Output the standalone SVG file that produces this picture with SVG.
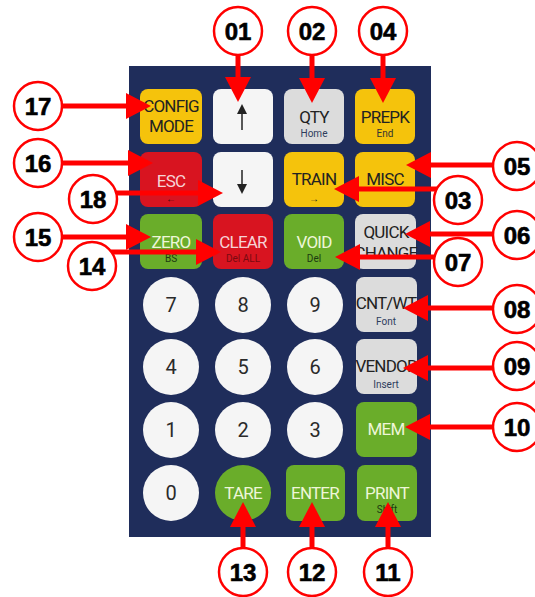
<svg xmlns="http://www.w3.org/2000/svg" width="535" height="597" viewBox="0 0 535 597">
<style>
.panel{fill:#1f2d5b}
.y{fill:#f5c30c}
.r{fill:#d81420}
.g{fill:#6aad2a}
.l{fill:#dcdcdc}
.w{fill:#f5f5f5}
.kt{font-family:Roboto,"Liberation Sans",sans-serif;font-size:17px;text-anchor:middle;letter-spacing:-0.8px}
.dk{fill:#222}
.lt{fill:#eef6d8}
.pk{fill:#f6d3d6}
.sub{font-family:Roboto,"Liberation Sans",sans-serif;font-size:10px;text-anchor:middle}
.num{font-family:Roboto,"Liberation Sans",sans-serif;font-size:20px;text-anchor:middle;fill:#2a2a2a}
.co{fill:#fff;stroke:#f00;stroke-width:2.5}
.ct{font-family:"Liberation Sans",Arial,sans-serif;font-weight:bold;font-size:24px;text-anchor:middle;fill:#000;stroke:#000;stroke-width:0.6}
.ar{stroke:#f00;stroke-width:5;fill:none;marker-end:url(#ah)}
</style>
<defs>
<marker id="ah" markerUnits="userSpaceOnUse" markerWidth="26" markerHeight="26" refX="0" refY="13" orient="auto">
<path d="M0,0 L25,13 L0,26 z" fill="#f00"/>
</marker>
</defs>
<rect class="panel" x="129" y="66" width="302" height="471"/>
<g id="keys">
<g id="k-config"><rect class="y" x="140" y="89" width="62" height="55" rx="8"/><text class="kt dk" x="171" y="112" font-size="15">CONFIG</text><text class="kt dk" x="171" y="132" font-size="15">MODE</text></g>
<g id="k-up"><rect class="w" x="213" y="89" width="60" height="55" rx="8"/><line x1="242" y1="110" x2="242" y2="130" stroke="#222" stroke-width="1.5"/><path d="M237,114 L242,104 L247,114 z" fill="#222"/></g>
<g id="k-qty"><rect class="l" x="284" y="89" width="60" height="55" rx="8"/><text class="kt dk" x="314" y="123">QTY</text><text class="sub" x="314" y="137" fill="#2e3c5c">Home</text></g>
<g id="k-prepk"><rect class="y" x="355" y="89" width="60" height="55" rx="8"/><text class="kt dk" x="385" y="123">PREPK</text><text class="sub" x="385" y="137" fill="#333">End</text></g>
<g id="k-esc"><rect class="r" x="140" y="152" width="62" height="55" rx="8"/><text class="kt pk" x="171" y="187">ESC</text><text class="sub" x="171" y="202" fill="#3a0a0a" font-size="13">←</text></g>
<g id="k-down"><rect class="w" x="213" y="152" width="60" height="55" rx="8"/><line x1="242" y1="170" x2="242" y2="188" stroke="#222" stroke-width="1.5"/><path d="M237,184 L242,194 L247,184 z" fill="#222"/></g>
<g id="k-train"><rect class="y" x="284" y="152" width="60" height="55" rx="8"/><text class="kt dk" x="314" y="185">TRAIN</text><text class="sub" x="314" y="202" fill="#222" font-size="14">→</text></g>
<g id="k-misc"><rect class="y" x="355" y="152" width="60" height="55" rx="8"/><text class="kt dk" x="385" y="185">MISC</text></g>
<g id="k-zero"><rect class="g" x="140" y="214" width="62" height="55" rx="8"/><text class="kt lt" x="171" y="248">ZERO</text><text class="sub" x="171" y="262" fill="#1c3a10">BS</text></g>
<g id="k-clear"><rect class="r" x="213" y="214" width="60" height="55" rx="8"/><text class="kt pk" x="243" y="248">CLEAR</text><text class="sub" x="243" y="262" fill="#7a0a10" font-size="8">Del ALL</text></g>
<g id="k-void"><rect class="g" x="284" y="214" width="60" height="55" rx="8"/><text class="kt lt" x="314" y="248">VOID</text><text class="sub" x="314" y="262" fill="#1c3a10">Del</text></g>
<g id="k-quick"><rect class="l" x="355" y="214" width="61" height="55" rx="8"/><text class="kt dk" x="386" y="238" font-size="15">QUICK</text><text class="kt dk" x="386" y="259" font-size="15">CHANGE</text></g>
<g id="k-7"><circle class="w" cx="171" cy="305" r="28"/><text class="num" x="171" y="312">7</text></g>
<g id="k-8"><circle class="w" cx="243" cy="305" r="28"/><text class="num" x="243" y="312">8</text></g>
<g id="k-9"><circle class="w" cx="315" cy="305" r="28"/><text class="num" x="315" y="312">9</text></g>
<g id="k-cnt"><rect class="l" x="356" y="277" width="61" height="55" rx="8"/><text class="kt dk" x="386" y="309">CNT/WT</text><text class="sub" x="386" y="325" fill="#2e3c5c">Font</text></g>
<g id="k-4"><circle class="w" cx="171" cy="367" r="28"/><text class="num" x="171" y="374">4</text></g>
<g id="k-5"><circle class="w" cx="243" cy="367" r="28"/><text class="num" x="243" y="374">5</text></g>
<g id="k-6"><circle class="w" cx="315" cy="367" r="28"/><text class="num" x="315" y="374">6</text></g>
<g id="k-vendor"><rect class="l" x="356" y="339" width="61" height="55" rx="8"/><text class="kt dk" x="386" y="372">VENDOR</text><text class="sub" x="386" y="388" fill="#2e3c5c">Insert</text></g>
<g id="k-1"><circle class="w" cx="171" cy="430" r="28"/><text class="num" x="171" y="437">1</text></g>
<g id="k-2"><circle class="w" cx="243" cy="430" r="28"/><text class="num" x="243" y="437">2</text></g>
<g id="k-3"><circle class="w" cx="315" cy="430" r="28"/><text class="num" x="315" y="437">3</text></g>
<g id="k-mem"><rect class="g" x="356" y="402" width="61" height="55" rx="8"/><text class="kt lt" x="386" y="435">MEM</text></g>
<g id="k-0"><circle class="w" cx="171" cy="493" r="28"/><text class="num" x="171" y="500">0</text></g>
<g id="k-tare"><circle class="g" cx="243" cy="493" r="28"/><text class="kt lt" x="243" y="499">TARE</text></g>
<g id="k-enter"><rect class="g" x="286" y="465" width="59" height="56" rx="8"/><text class="kt lt" x="315" y="499">ENTER</text></g>
<g id="k-print"><rect class="g" x="357" y="465" width="60" height="56" rx="8"/><text class="kt lt" x="387" y="499">PRINT</text><text class="sub" x="387" y="513" fill="#1c3a10">Shift</text></g>
</g>
<g id="connectors">
<line class="ar" x1="238" y1="55" x2="238" y2="77"/>
<line class="ar" x1="312" y1="55" x2="312" y2="78"/>
<line class="ar" x1="383" y1="55" x2="383" y2="78"/>
<line class="ar" x1="62" y1="106" x2="126" y2="106"/>
<line class="ar" x1="62" y1="163" x2="128" y2="163"/>
<line class="ar" x1="115" y1="193" x2="198" y2="193"/>
<line class="ar" x1="62" y1="237" x2="126" y2="237"/>
<line class="ar" x1="111" y1="252" x2="196" y2="252"/>
<line class="ar" x1="493" y1="165" x2="431" y2="165"/>
<line class="ar" x1="437" y1="189" x2="359" y2="189"/>
<line class="ar" x1="493" y1="234" x2="430" y2="234"/>
<line class="ar" x1="435" y1="257" x2="360" y2="257"/>
<line class="ar" x1="493" y1="308" x2="428" y2="308"/>
<line class="ar" x1="493" y1="368" x2="428" y2="368"/>
<line class="ar" x1="493" y1="427" x2="430" y2="427"/>
<line class="ar" x1="243" y1="548" x2="243" y2="527"/>
<line class="ar" x1="312" y1="548" x2="312" y2="527"/>
<line class="ar" x1="388" y1="548" x2="388" y2="527"/>
</g>
<g id="c01"><circle class="co" cx="238" cy="31" r="24"/><text class="ct" x="238" y="40">01</text></g>
<g id="c02"><circle class="co" cx="312" cy="31" r="24"/><text class="ct" x="312" y="40">02</text></g>
<g id="c04"><circle class="co" cx="383" cy="31" r="24"/><text class="ct" x="383" y="40">04</text></g>
<g id="c17"><circle class="co" cx="38" cy="106" r="24"/><text class="ct" x="38" y="115">17</text></g>
<g id="c16"><circle class="co" cx="38" cy="163" r="24"/><text class="ct" x="38" y="172">16</text></g>
<g id="c18"><circle class="co" cx="93" cy="199" r="24"/><text class="ct" x="93" y="208">18</text></g>
<g id="c15"><circle class="co" cx="38" cy="237" r="24"/><text class="ct" x="38" y="246">15</text></g>
<g id="c14"><circle class="co" cx="92" cy="266" r="24"/><text class="ct" x="92" y="275">14</text></g>
<g id="c05"><circle class="co" cx="517" cy="166" r="24"/><text class="ct" x="517" y="175">05</text></g>
<g id="c03"><circle class="co" cx="458" cy="200" r="24"/><text class="ct" x="458" y="209">03</text></g>
<g id="c06"><circle class="co" cx="517" cy="235" r="24"/><text class="ct" x="517" y="244">06</text></g>
<g id="c07"><circle class="co" cx="458" cy="262" r="24"/><text class="ct" x="458" y="271">07</text></g>
<g id="c08"><circle class="co" cx="517" cy="309" r="24"/><text class="ct" x="517" y="318">08</text></g>
<g id="c09"><circle class="co" cx="517" cy="366" r="24"/><text class="ct" x="517" y="375">09</text></g>
<g id="c10"><circle class="co" cx="517" cy="427" r="24"/><text class="ct" x="517" y="436">10</text></g>
<g id="c13"><circle class="co" cx="243" cy="572" r="24"/><text class="ct" x="243" y="581">13</text></g>
<g id="c12"><circle class="co" cx="312" cy="572" r="24"/><text class="ct" x="312" y="581">12</text></g>
<g id="c11"><circle class="co" cx="388" cy="572" r="24"/><text class="ct" x="388" y="581">11</text></g>
</svg>
